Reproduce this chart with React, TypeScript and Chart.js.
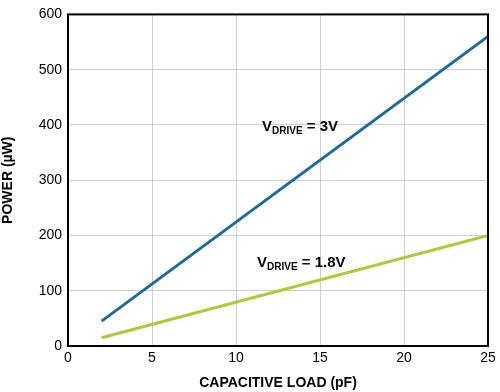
import React, { useEffect, useRef } from "react";
import { Chart, registerables } from "chart.js";

Chart.register(...registerables);

const loadPf = [2, 25];
const power3V = [45, 560];
const power18V = [15, 200];
const xTicks = [0, 5, 10, 15, 20, 25];
const yTicks = [0, 100, 200, 300, 400, 500, 600];
const labels = [
  { x: 11.55, y: 400, main: "V", sub: "DRIVE", rest: " = 3V" },
  { x: 11.25, y: 154, main: "V", sub: "DRIVE", rest: " = 1.8V" },
];

const FONT = "'Liberation Sans', Arial, Helvetica, sans-serif";

export default function App() {
  const ref = useRef<HTMLCanvasElement | null>(null);
  useEffect(() => {
    document.body.style.margin = "0";
    const labelPlugin = {
      id: "labelsAndBox",
      afterDatasetsDraw(chart: any) {
        const { ctx, chartArea, scales } = chart;
        ctx.save();
        ctx.strokeStyle = "#000";
        ctx.lineWidth = 2;
        ctx.strokeRect(chartArea.left, chartArea.top, chartArea.right - chartArea.left, chartArea.bottom - chartArea.top);
        ctx.fillStyle = "#000";
        ctx.textBaseline = "alphabetic";
        ctx.textAlign = "left";
        for (const l of labels) {
          let px = scales.x.getPixelForValue(l.x);
          const py = scales.y.getPixelForValue(l.y) + 6;
          ctx.font = `bold 15px ${FONT}`;
          ctx.fillText(l.main, px, py);
          px += ctx.measureText(l.main).width;
          ctx.font = `bold 10px ${FONT}`;
          ctx.fillText(l.sub, px, py + 3);
          px += ctx.measureText(l.sub).width;
          ctx.font = `bold 15px ${FONT}`;
          ctx.fillText(l.rest, px, py);
        }
        ctx.restore();
      },
    };
    const chart = new Chart(ref.current!, {
      type: "line",
      data: {
        datasets: [
          {
            label: "3V",
            data: loadPf.map((x, i) => ({ x, y: power3V[i] })),
            borderColor: "#1f6b96",
            borderWidth: 3,
            pointRadius: 0,
            fill: false,
          },
          {
            label: "1.8V",
            data: loadPf.map((x, i) => ({ x, y: power18V[i] })),
            borderColor: "#a8cc3c",
            borderWidth: 3,
            pointRadius: 0,
            fill: false,
          },
        ],
      },
      options: {
        animation: false,
        responsive: false,
        layout: { padding: { top: 10, right: 12, left: 0, bottom: 0 } },
        plugins: { legend: { display: false }, tooltip: { enabled: false } },
        scales: {
          x: {
            type: "linear",
            min: 0,
            max: 25,
            afterBuildTicks: (axis: any) => {
              axis.ticks = xTicks.map((v) => ({ value: v }));
            },
            afterFit: (axis: any) => {
              axis.height = 46;
            },
            grid: { color: "#cfcfcf", lineWidth: 1, drawTicks: false },
            border: { display: false },
            ticks: { color: "#000", font: { family: FONT, size: 14 }, padding: 4, maxRotation: 0 },
            title: {
              display: true,
              text: "CAPACITIVE LOAD (pF)",
              color: "#000",
              font: { family: FONT, size: 14, weight: "bold" },
              padding: { top: 2, bottom: 0 },
            },
          },
          y: {
            type: "linear",
            min: 0,
            max: 600,
            afterBuildTicks: (axis: any) => {
              axis.ticks = yTicks.map((v) => ({ value: v }));
            },
            afterFit: (axis: any) => {
              axis.width = 68;
            },
            grid: { color: "#cfcfcf", lineWidth: 1, drawTicks: false },
            border: { display: false },
            ticks: { color: "#000", font: { family: FONT, size: 14 }, padding: 6 },
            title: {
              display: true,
              text: "POWER (µW)",
              color: "#000",
              font: { family: FONT, size: 14, weight: "bold" },
              padding: { top: 0, bottom: 0 },
            },
          },
        },
      },
      plugins: [labelPlugin],
    });
    return () => chart.destroy();
  }, []);
  return (
    <div style={{ width: 500, height: 392, background: "#fff" }}>
      <canvas ref={ref} width={500} height={392} style={{ display: "block" }} />
    </div>
  );
}
